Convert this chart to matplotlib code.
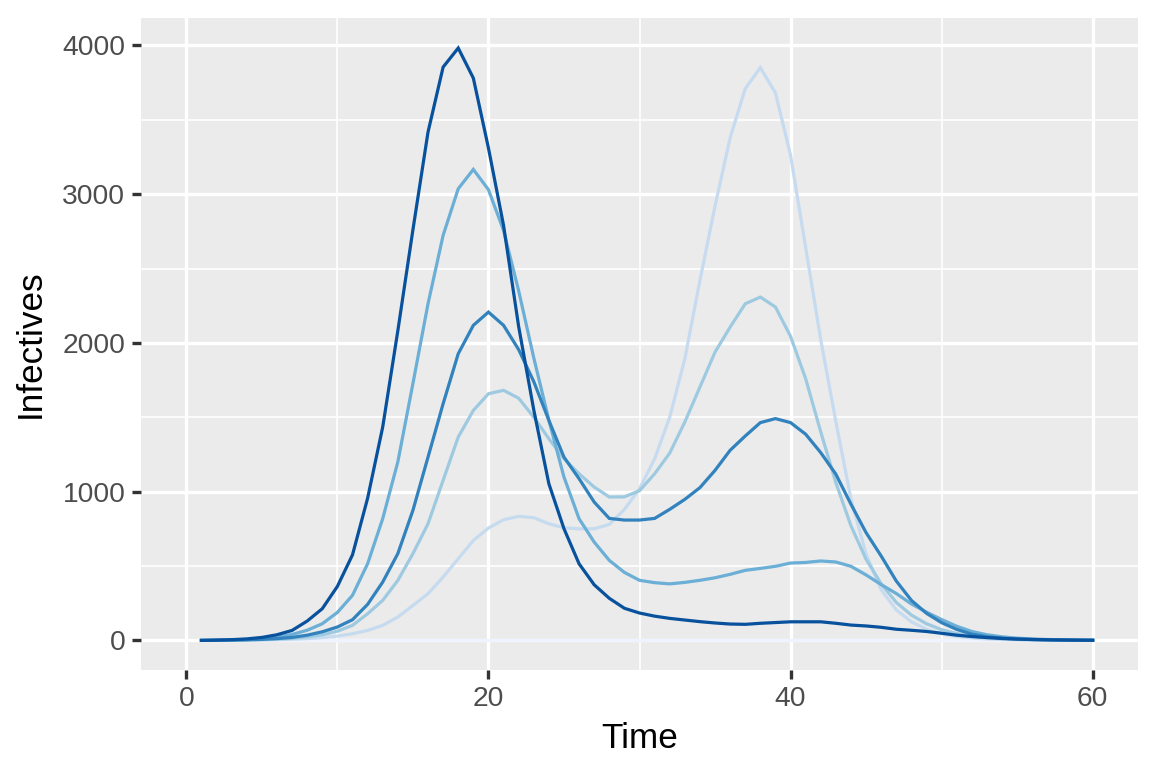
import matplotlib
matplotlib.use("Agg")
import matplotlib.pyplot as plt
from matplotlib.ticker import MultipleLocator

plt.rcParams["font.family"] = ["Liberation Sans", "DejaVu Sans"]

time = list(range(1, 61))

s0 = [0] * 60  # lightest series (flat at zero)

s1 = [0, 1, 1, 2, 3, 5, 8, 12, 19, 29,
      45, 67, 101, 157, 235, 314, 426, 549, 672, 755,
      811, 834, 825, 784, 757, 750, 750, 780, 880, 1020,
      1220, 1500, 1893, 2420, 2920, 3379, 3709, 3850, 3680, 3261,
      2640, 2020, 1470, 950, 580, 340, 205, 125, 75, 45,
      27, 17, 10, 6, 4, 2, 1, 1, 0, 0]

s2 = [0, 1, 2, 3, 5, 9, 14, 23, 38, 62,
      101, 179, 269, 403, 583, 784, 1076, 1367, 1546, 1658,
      1681, 1628, 1501, 1356, 1221, 1120, 1031, 964, 965, 1006,
      1120, 1259, 1468, 1703, 1938, 2106, 2263, 2308, 2241, 2044,
      1759, 1401, 1060, 770, 545, 380, 255, 170, 112, 72,
      46, 29, 18, 11, 7, 4, 3, 2, 1, 1]

s3 = [0, 1, 3, 6, 12, 22, 40, 68, 112, 188,
      303, 515, 818, 1199, 1726, 2263, 2723, 3036, 3166, 3030,
      2756, 2350, 1900, 1480, 1098, 818, 661, 538, 457, 404,
      388, 380, 390, 404, 421, 444, 471, 484, 498, 520,
      524, 534, 527, 498, 440, 375, 315, 245, 190, 140,
      95, 60, 38, 24, 15, 10, 6, 4, 2, 1]

s4 = [0, 1, 2, 4, 7, 12, 20, 35, 58, 90,
      139, 242, 392, 583, 874, 1232, 1591, 1927, 2118, 2207,
      2118, 1955, 1740, 1479, 1232, 1087, 930, 820, 809, 809,
      820, 881, 948, 1027, 1143, 1278, 1374, 1464, 1491, 1464,
      1386, 1262, 1117, 915, 724, 567, 399, 269, 182, 119,
      74, 42, 25, 15, 9, 6, 4, 2, 1, 1]

s5 = [0, 2, 5, 10, 20, 38, 67, 130, 213, 363,
      575, 955, 1434, 2080, 2760, 3417, 3854, 3982, 3780, 3310,
      2790, 2110, 1550, 1053, 751, 515, 374, 283, 216, 184,
      163, 148, 137, 126, 117, 110, 108, 115, 120, 125,
      125, 125, 115, 103, 97, 88, 75, 68, 60, 48,
      35, 26, 19, 13, 9, 6, 4, 3, 2, 1]

series = [s0, s1, s2, s3, s4, s5]
colors = ["#eff3ff", "#c6dbef", "#9ecae1", "#6baed6", "#3182bd", "#08519c"]

x_ticks = [0, 20, 40, 60]
y_ticks = [0, 1000, 2000, 3000, 4000]

fig = plt.figure(figsize=(1156 / 192, 775 / 192), dpi=192)
ax = fig.add_axes([141 / 1156, 105 / 775, (1138 - 141) / 1156, (670 - 18) / 775])
ax.set_facecolor("#EBEBEB")

for ys, c in zip(series, colors):
    ax.plot(time, ys, color=c, lw=1.2, solid_joinstyle="miter", zorder=3)

ax.set_xlim(-3, 63)
ax.set_ylim(-199, 4184)
ax.set_xticks(x_ticks)
ax.set_yticks(y_ticks)
ax.xaxis.set_minor_locator(MultipleLocator(10))
ax.yaxis.set_minor_locator(MultipleLocator(500))

ax.grid(which="major", color="white", lw=1.25, zorder=1)
ax.grid(which="minor", color="white", lw=0.62, zorder=1)
ax.set_axisbelow(True)
for sp in ax.spines.values():
    sp.set_visible(False)

ax.tick_params(axis="both", which="major", length=3.4, width=1.25, color="#333333",
               labelsize=10.6, labelcolor="#4D4D4D", pad=2.5)
ax.tick_params(axis="both", which="minor", length=0)

ax.set_xlabel("Time", fontsize=13.2, color="black", labelpad=4)
ax.set_ylabel("Infectives", fontsize=13.2, color="black", labelpad=6)

fig.savefig("out.png", dpi=192, facecolor="white")
